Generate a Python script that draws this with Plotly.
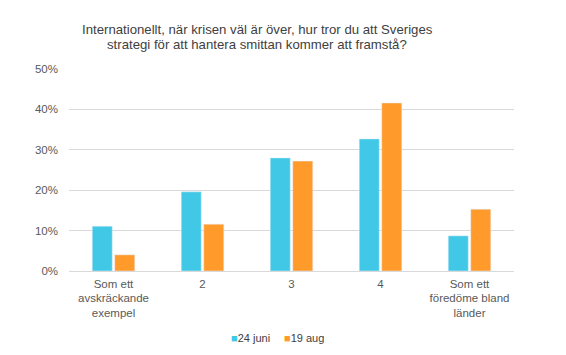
import plotly.graph_objects as go

categories = ["Som ett<br>avskräckande<br>exempel", "2", "3", "4", "Som ett<br>föredöme bland<br>länder"]
juni_24 = [0.111, 0.196, 0.280, 0.327, 0.087]
aug_19 = [0.040, 0.116, 0.272, 0.416, 0.153]
series_names = ["24 juni", "19 aug"]
series_colors = ["#41C8E6", "#FF9A2B"]
title_lines = ["Internationellt, när krisen väl är över, hur tror du att Sveriges",
               "strategi för att hantera smittan kommer att framstå?"]

font_family = "Liberation Sans, Arial, sans-serif"

fig = go.Figure()
for name, vals, col in zip(series_names, [juni_24, aug_19], series_colors):
    fig.add_trace(go.Bar(x=categories, y=vals, name=name, marker_color=col,
                         showlegend=False))

# plot area (page px): left 69, right 514, top 69, bottom 271 -> width 445, height 202
PL, PW, PB, PH = 69, 445, 271, 202
for line, ypx in zip(title_lines, [29, 45]):
    fig.add_annotation(text=line, xref="paper", yref="paper",
                       x=(257 - PL) / PW, y=(PB - ypx) / PH,
                       xanchor="center", yanchor="middle", showarrow=False,
                       font=dict(size=13.2, color="#404040", family=font_family))

# legend built from the series names / colours
for name, col, xpx in zip(series_names, series_colors, [229, 282]):
    fig.add_annotation(text=f"<span style='color:{col}'>■</span>{name}",
                       xref="paper", yref="paper",
                       x=(xpx - PL) / PW, y=(PB - 337.5) / PH,
                       xanchor="left", yanchor="middle", showarrow=False,
                       font=dict(size=11, color="#404040", family=font_family))

# page has an 8px body margin, so the figure is drawn 8px smaller / shifted
fig.update_layout(
    width=558, height=347,
    margin=dict(l=PL - 8, r=558 - (PL + PW - 8), t=69 - 8, b=347 - (PB - 8),
                autoexpand=False),
    paper_bgcolor="white", plot_bgcolor="white",
    font=dict(family=font_family, color="#595959", size=11),
    barmode="group", bargap=0.494, bargroupgap=0.11,
    showlegend=False,
)
fig.update_yaxes(range=[0, 0.5], dtick=0.1, tickformat=".0%", gridcolor="#D9D9D9",
                 gridwidth=1, zeroline=True, zerolinecolor="#D9D9D9", zerolinewidth=1,
                 showline=False, ticks="", tickfont=dict(size=11.5, color="#595959"),
                 ticklabelstandoff=10, automargin=False)
fig.update_xaxes(showline=False, ticks="", tickfont=dict(size=11.5, color="#595959"),
                 tickangle=0, ticklabelstandoff=4, automargin=False)

fig.write_html("out.html")
